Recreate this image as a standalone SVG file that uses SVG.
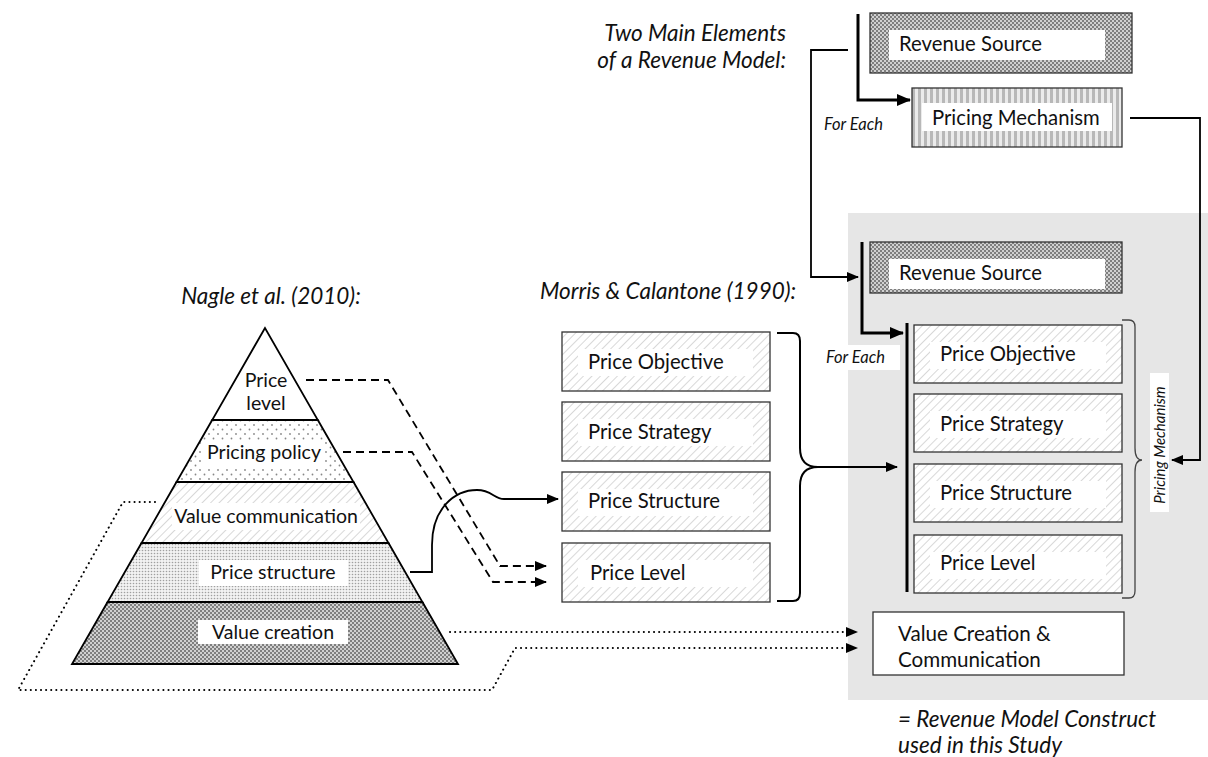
<svg xmlns="http://www.w3.org/2000/svg" width="1208" height="757" viewBox="0 0 1208 757">
  <defs>
    <pattern id="hatch" width="6" height="6" patternUnits="userSpaceOnUse" patternTransform="rotate(45)">
      <rect width="6" height="6" fill="#ffffff"/>
      <line x1="0" y1="0" x2="0" y2="6" stroke="#c8c8c8" stroke-width="1.4"/>
    </pattern>
    <pattern id="dotsSparse" width="9" height="9" patternUnits="userSpaceOnUse">
      <rect width="9" height="9" fill="#ffffff"/>
      <circle cx="2" cy="2" r="0.9" fill="#888"/>
      <circle cx="6.5" cy="6.5" r="0.9" fill="#888"/>
    </pattern>
    <pattern id="dotsDense" width="3" height="3" patternUnits="userSpaceOnUse">
      <rect width="3" height="3" fill="#f2f2f2"/>
      <circle cx="1.5" cy="1.5" r="0.8" fill="#a0a0a0"/>
    </pattern>
    <pattern id="checker" width="4" height="4" patternUnits="userSpaceOnUse">
      <rect width="4" height="4" fill="#7e7e7e"/>
      <rect x="0" y="0" width="2" height="2" fill="#d0d0d0"/>
      <rect x="2" y="2" width="2" height="2" fill="#d0d0d0"/>
    </pattern>
    <pattern id="stripes" width="6" height="10" patternUnits="userSpaceOnUse">
      <rect width="6" height="10" fill="#ebebeb"/>
      <rect x="0" y="0" width="3" height="10" fill="#b8b8b8"/>
    </pattern>
    <marker id="arrow" viewBox="0 0 12 10" refX="11" refY="5" markerWidth="12" markerHeight="10" markerUnits="userSpaceOnUse" orient="auto">
      <path d="M0,0 L12,5 L0,10 z" fill="#000"/>
    </marker>
    <marker id="arrowBig" viewBox="0 0 14 12" refX="13" refY="6" markerWidth="14" markerHeight="12" markerUnits="userSpaceOnUse" orient="auto">
      <path d="M0,0 L14,6 L0,12 z" fill="#000"/>
    </marker>
  </defs>
  <style>
    text { font-family: Lato, "Open Sans", "Liberation Sans", sans-serif; fill: #111; }
    .lbl { font-size: 20.3px; }
    .plbl { font-size: 19.5px; }
    .title { font-size: 22.5px; font-style: italic; }
    .small { font-size: 16.5px; font-style: italic; }
    .vlbl { font-size: 15px; font-style: italic; }
    .box { stroke: #333; stroke-width: 1.3; }
    .white { fill: #ffffff; }
    .edge { fill: none; stroke: #000; stroke-width: 1.8; }
    .thick { fill: none; stroke: #000; stroke-width: 3; }
    .dash { fill: none; stroke: #000; stroke-width: 1.8; stroke-dasharray: 8 5; }
    .dot { fill: none; stroke: #000; stroke-width: 2; stroke-dasharray: 0.1 5; stroke-linecap: round; }
    .brace { fill: none; stroke: #000; stroke-width: 2; }
    .braceThin { fill: none; stroke: #444; stroke-width: 1.3; }
  </style>

  <!-- shaded construct area -->
  <rect id="construct-area" x="848" y="213" width="360" height="487" fill="#e6e6e6"/>

  <!-- headings -->
  <text class="title" x="271" y="304" text-anchor="middle">Nagle et al. (2010):</text>
  <text class="title" x="540" y="299">Morris &amp; Calantone (1990):</text>
  <text class="title" x="786" y="41" text-anchor="end">Two Main Elements</text>
  <text class="title" x="786" y="68" text-anchor="end">of a Revenue Model:</text>
  <text class="title" x="898" y="727">= Revenue Model Construct</text>
  <text class="title" x="898" y="753">used in this Study</text>

  <!-- pricing pyramid -->
  <g id="pyramid">
    <g id="band-price-level">
      <polygon points="265,328 212.2,420 317.8,420" fill="#fff" stroke="#000" stroke-width="1.8"/>
      <text class="plbl" x="266" y="387" text-anchor="middle">Price</text>
      <text class="plbl" x="266" y="410" text-anchor="middle">level</text>
    </g>
    <g id="band-pricing-policy">
      <polygon points="212.2,420 317.8,420 353.5,482 176.5,482" fill="url(#dotsSparse)" stroke="#000" stroke-width="1.8"/>
      <rect class="white" x="203" y="440" width="122" height="27"/>
      <text class="plbl" x="264" y="459" text-anchor="middle">Pricing policy</text>
    </g>
    <g id="band-value-communication">
      <polygon points="176.5,482 353.5,482 388.5,543 141.5,543" fill="url(#hatch)" stroke="#000" stroke-width="1.8"/>
      <rect class="white" x="172" y="503" width="188" height="27"/>
      <text class="plbl" x="266" y="523" text-anchor="middle">Value communication</text>
    </g>
    <g id="band-price-structure">
      <polygon points="141.5,543 388.5,543 422.4,602 107.6,602" fill="url(#dotsDense)" stroke="#000" stroke-width="1.8"/>
      <rect class="white" x="199" y="560" width="149" height="26"/>
      <text class="plbl" x="273" y="579" text-anchor="middle">Price structure</text>
    </g>
    <g id="band-value-creation">
      <polygon points="107.6,602 422.4,602 458,664 72,664" fill="url(#checker)" stroke="#000" stroke-width="1.8"/>
      <rect class="white" x="198" y="620" width="150" height="24"/>
      <text class="plbl" x="273" y="639" text-anchor="middle">Value creation</text>
    </g>
  </g>

  <!-- Morris & Calantone elements -->
  <g id="mc-price-objective">
    <rect class="box" x="562" y="332" width="208" height="59" fill="url(#hatch)"/>
    <rect class="white" x="578" y="349" width="175" height="27"/>
    <text class="lbl" x="588" y="369">Price Objective</text>
  </g>
  <g id="mc-price-strategy">
    <rect class="box" x="562" y="402" width="208" height="59" fill="url(#hatch)"/>
    <rect class="white" x="578" y="419" width="175" height="27"/>
    <text class="lbl" x="588" y="439">Price Strategy</text>
  </g>
  <g id="mc-price-structure">
    <rect class="box" x="562" y="472" width="208" height="59" fill="url(#hatch)"/>
    <rect class="white" x="578" y="489" width="175" height="27"/>
    <text class="lbl" x="588" y="508">Price Structure</text>
  </g>
  <g id="mc-price-level">
    <rect class="box" x="562" y="543" width="208" height="59" fill="url(#hatch)"/>
    <rect class="white" x="578" y="560" width="175" height="27"/>
    <text class="lbl" x="590" y="580">Price Level</text>
  </g>

  <!-- two main elements (top) -->
  <g id="top-revenue-source">
    <rect class="box" x="870" y="13" width="262" height="60" fill="url(#checker)"/>
    <rect class="white" x="889" y="30" width="216" height="30"/>
    <text class="lbl" x="899" y="51">Revenue Source</text>
  </g>
  <g id="top-pricing-mechanism">
    <rect class="box" x="912" y="88" width="210" height="59" fill="url(#stripes)"/>
    <rect class="white" x="922" y="103" width="190" height="28"/>
    <text class="lbl" x="932" y="125">Pricing Mechanism</text>
  </g>
  <text class="small" x="824" y="130">For Each</text>

  <!-- revenue model construct -->
  <g id="rm-revenue-source">
    <rect class="box" x="870" y="242" width="252" height="51" fill="url(#checker)"/>
    <rect class="white" x="889" y="259" width="216" height="30"/>
    <text class="lbl" x="899" y="280">Revenue Source</text>
  </g>
  <g id="rm-for-each">
    <rect class="white" x="823" y="345" width="77" height="25"/>
    <text class="small" x="826" y="363">For Each</text>
  </g>
  <g id="rm-price-objective">
    <rect class="box" x="914" y="325" width="208" height="58" fill="url(#hatch)"/>
    <rect class="white" x="930" y="342" width="176" height="27"/>
    <text class="lbl" x="940" y="361">Price Objective</text>
  </g>
  <g id="rm-price-strategy">
    <rect class="box" x="914" y="394" width="208" height="58" fill="url(#hatch)"/>
    <rect class="white" x="930" y="411" width="176" height="27"/>
    <text class="lbl" x="940" y="431">Price Strategy</text>
  </g>
  <g id="rm-price-structure">
    <rect class="box" x="914" y="464" width="208" height="58" fill="url(#hatch)"/>
    <rect class="white" x="930" y="481" width="176" height="27"/>
    <text class="lbl" x="940" y="500">Price Structure</text>
  </g>
  <g id="rm-price-level">
    <rect class="box" x="914" y="535" width="208" height="58" fill="url(#hatch)"/>
    <rect class="white" x="930" y="552" width="176" height="27"/>
    <text class="lbl" x="940" y="570">Price Level</text>
  </g>
  <g id="rm-pricing-mechanism-label">
    <rect class="white" x="1150" y="373" width="19" height="139"/>
    <text class="vlbl" transform="translate(1165,445) rotate(-90)" text-anchor="middle">Pricing Mechanism</text>
  </g>
  <g id="rm-value-creation">
    <rect class="box" x="873" y="612" width="251" height="63" fill="#fff"/>
    <text class="lbl" x="898" y="641" style="font-size:20.6px">Value Creation &amp;</text>
    <text class="lbl" x="898" y="667" style="font-size:20.6px">Communication</text>
  </g>

  <!-- connectors -->
  <g id="connectors">
    <!-- pyramid to Morris & Calantone -->
    <path class="dash" d="M306,380 H388 L500,566 H546" marker-end="url(#arrow)"/>
    <path class="dash" d="M343,452 H412 L493,582 H546" marker-end="url(#arrow)"/>
    <path class="edge" d="M410,572 H432 V545 C432,508 455,490 477,490 C492,490 494,499 504,499 H558" marker-end="url(#arrow)"/>
    <!-- dotted links into value creation & communication -->
    <path class="dot" d="M450,632 H857" marker-end="url(#arrow)"/>
    <path class="dot" d="M155,502 H123 L18,690 H492 L515,648 H857" marker-end="url(#arrow)"/>
    <!-- brace over Morris & Calantone elements -->
    <path class="brace" d="M777,333 H793 Q800,333 800,341 V448 Q800,467 818,467 Q800,467 800,486 V593 Q800,601 793,601 H777"/>
    <path class="edge" d="M818,467 H897" marker-end="url(#arrow)"/>
    <!-- top element links -->
    <path class="thick" d="M858,14 V100 H910" marker-end="url(#arrowBig)"/>
    <path class="edge" d="M848,50 H811 V277 H858" marker-end="url(#arrow)"/>
    <path class="edge" d="M1130,118 H1200 V460 H1172" marker-end="url(#arrow)"/>
    <!-- for each: revenue source to pricing elements -->
    <path class="thick" d="M862,242 V333 H903" marker-end="url(#arrowBig)"/>
    <path class="thick" d="M907,323 V592"/>
    <!-- pricing mechanism brace -->
    <path class="braceThin" d="M1122,320 H1129 Q1135,320 1135,327 V448 Q1135,460 1142,460 Q1135,460 1135,472 V591 Q1135,598 1129,598 H1122"/>
  </g>
</svg>
